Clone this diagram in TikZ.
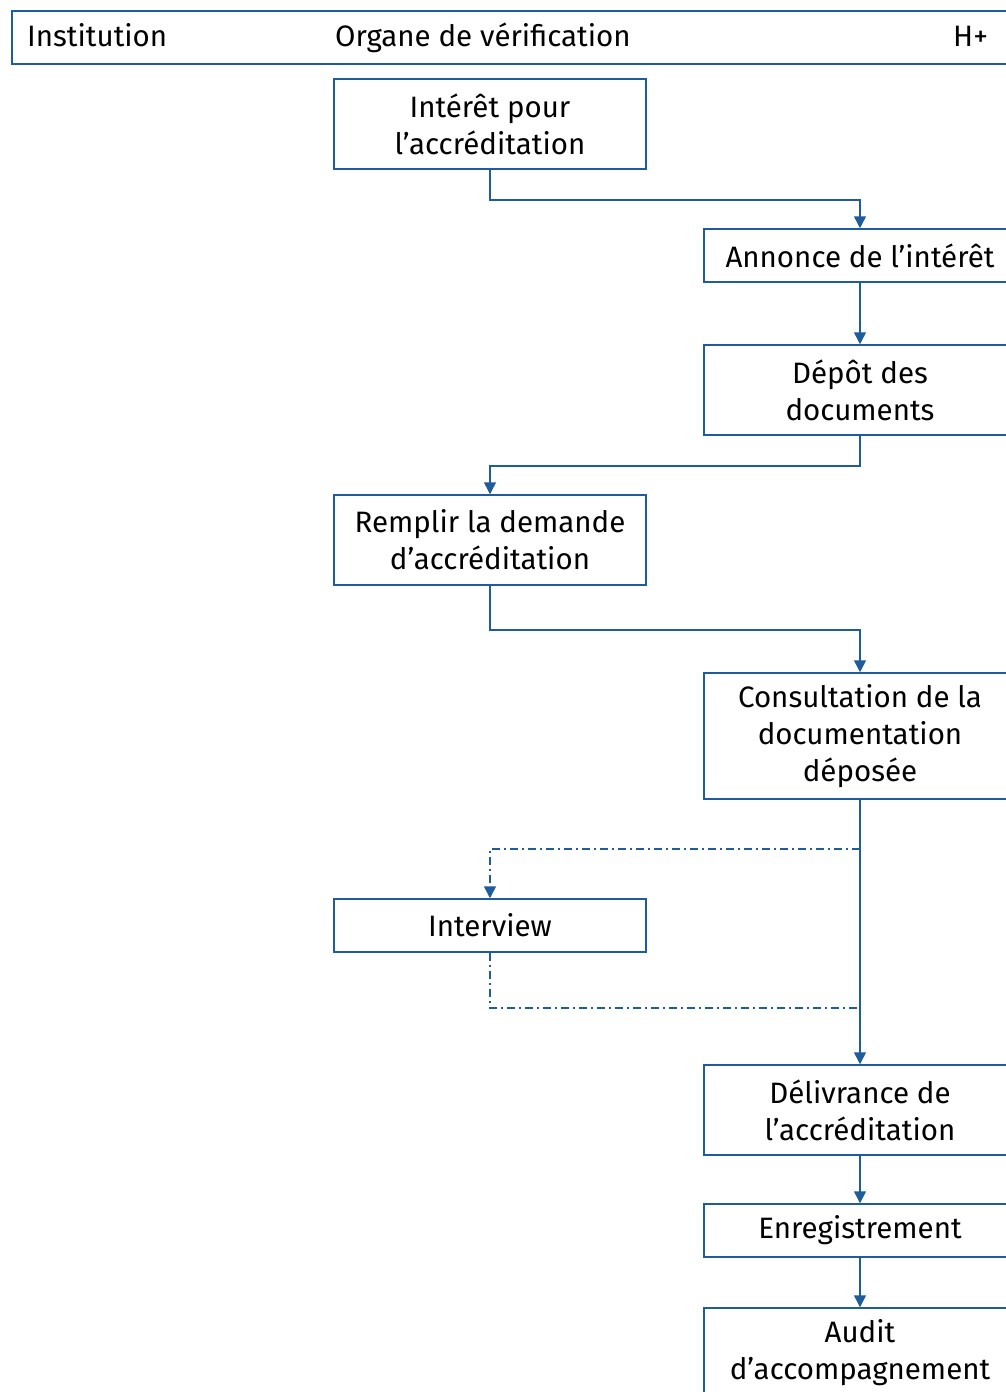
\documentclass[tikz,border=0pt]{standalone}
\usepackage{fontspec}
\setmainfont{Fira Sans}
\usetikzlibrary{arrows.meta}
\definecolor{lineblue}{HTML}{1F5C9C}
\tikzset{
  box/.style={draw=lineblue, line width=1.5pt, minimum width=312pt, align=center, inner sep=0pt,
    font=\fontsize{29.5}{37}\selectfont, text=black},
  arr/.style={draw=lineblue, line width=1.5pt, -{Triangle[length=12pt,width=12pt]}},
  plain/.style={draw=lineblue, line width=1.5pt},
  dd/.style={dash pattern=on 8pt off 4pt on 2pt off 4pt},
  hdr/.style={font=\fontsize{29.5}{33}\selectfont, anchor=base west, inner sep=0pt, text=black}
}
\begin{document}
\begin{tikzpicture}[x=1pt,y=-1pt]
\useasboundingbox (0,0) rectangle (1006,1392);
\clip (0,0) rectangle (1006,1392);
\fill[white] (0,0) rectangle (1006,1392);
% header
\node[draw=lineblue, line width=1.5pt, minimum width=1010pt, minimum height=53pt, inner sep=0pt, anchor=north west] (header) at (11,10) {};
\node[hdr] (hInst) at (27,46) {Institution};
\node[hdr] (hOrg) at (335,46) {Organe de vérification};
\node[hdr] (hH) at (953,46) {H+};
% boxes
\node[box, minimum height=90pt] (b1) at (490,124) {Intérêt pour\\l’accréditation};
\node[box, minimum height=53pt] (b2) at (860,255.5) {Annonce de l’intérêt};
\node[box, minimum height=90pt] (b3) at (860,390) {Dépôt des\\documents};
\node[box, minimum height=90pt] (b4) at (490,540) {Remplir la demande\\d’accréditation};
\node[box, minimum height=126pt] (b5) at (860,736) {Consultation de la\\documentation\\déposée};
\node[box, minimum height=53pt] (b6) at (490,925.5) {Interview};
\node[box, minimum height=90pt] (b7) at (860,1110) {Délivrance de\\l’accréditation};
\node[box, minimum height=53pt] (b8) at (860,1230.5) {Enregistrement};
\node[box, minimum height=90pt] (b9) at (860,1353) {Audit\\d’accompagnement};
% connectors
\draw[arr] (b1.south) -- ++(0,30) -| (b2.north);
\draw[arr] (b2.south) -- (b3.north);
\draw[arr] (b3.south) -- ++(0,30) -| (b4.north);
\draw[arr] (b4.south) -- ++(0,44) -| (b5.north);
\draw[arr] (b5.south) -- (b7.north);
\coordinate (split) at (860,849);
\coordinate (join) at (860,1008);
\draw[arr, dd] (split) -| (b6.north);
\draw[plain, dd] (b6.south) |- (join);
\draw[arr] (b7.south) -- (b8.north);
\draw[arr] (b8.south) -- (b9.north);
\end{tikzpicture}
\end{document}
